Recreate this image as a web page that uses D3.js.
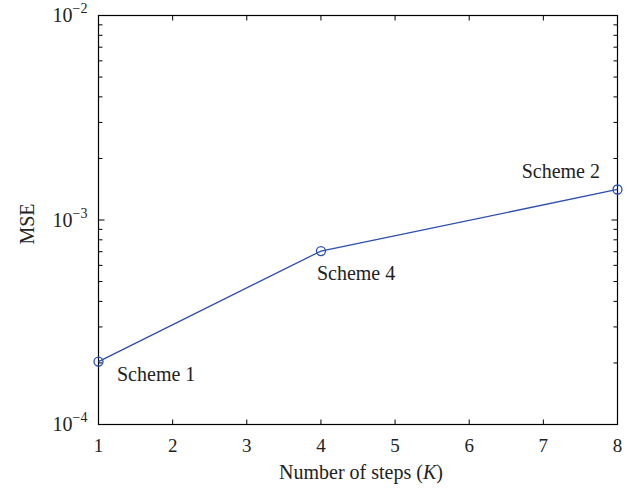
<!DOCTYPE html>
<html>
<head>
<meta charset="utf-8">
<script src="https://cdn.jsdelivr.net/npm/d3@7"></script>
<style>
  body { margin: 0; background: #fff; }
  svg text { font-family: "Liberation Serif", "DejaVu Serif", serif; fill: #222; }
</style>
</head>
<body>
<svg width="640" height="489"></svg>
<script>
// data
var steps = [1, 4, 8];
var mse = [2.03e-4, 7.05e-4, 1.41e-3];
var schemeLabels = ["Scheme 1", "Scheme 4", "Scheme 2"];
var xTicks = [1, 2, 3, 4, 5, 6, 7, 8];
var yMajor = [1e-4, 1e-3, 1e-2];
var yExps = [-4, -3, -2];

var margin = { top: 15.5, right: 22.5, bottom: 64.5, left: 98.5 };
var width = 640 - margin.left - margin.right;
var height = 489 - margin.top - margin.bottom;

var svg = d3.select("svg");
var g = svg.append("g")
    .attr("transform", "translate(" + margin.left + "," + margin.top + ")");

var x = d3.scaleLinear().domain([1, 8]).range([0, width]);
var y = d3.scaleLog().domain([1e-4, 1e-2]).range([height, 0]);

// minor ticks on the log axis
var yMinor = [];
for (var e = -4; e < -2; e++) {
    for (var m = 2; m <= 9; m++) yMinor.push(m * Math.pow(10, e));
}

// y ticks, left and right, inside
g.selectAll(".yminL").data(yMinor).enter().append("line")
    .attr("x1", 0).attr("x2", 4)
    .attr("y1", function (d) { return y(d); }).attr("y2", function (d) { return y(d); })
    .attr("stroke", "#000").attr("stroke-width", 1);
g.selectAll(".yminR").data(yMinor).enter().append("line")
    .attr("x1", width).attr("x2", width - 4)
    .attr("y1", function (d) { return y(d); }).attr("y2", function (d) { return y(d); })
    .attr("stroke", "#000").attr("stroke-width", 1);
g.selectAll(".ymajL").data(yMajor).enter().append("line")
    .attr("x1", 0).attr("x2", 6)
    .attr("y1", function (d) { return y(d); }).attr("y2", function (d) { return y(d); })
    .attr("stroke", "#000").attr("stroke-width", 1);
g.selectAll(".ymajR").data(yMajor).enter().append("line")
    .attr("x1", width).attr("x2", width - 6)
    .attr("y1", function (d) { return y(d); }).attr("y2", function (d) { return y(d); })
    .attr("stroke", "#000").attr("stroke-width", 1);

// x ticks, bottom and top, inside
g.selectAll(".xtB").data(xTicks).enter().append("line")
    .attr("x1", function (d) { return x(d); }).attr("x2", function (d) { return x(d); })
    .attr("y1", height).attr("y2", height - 5)
    .attr("stroke", "#000").attr("stroke-width", 1);
g.selectAll(".xtT").data(xTicks).enter().append("line")
    .attr("x1", function (d) { return x(d); }).attr("x2", function (d) { return x(d); })
    .attr("y1", 0).attr("y2", 5)
    .attr("stroke", "#000").attr("stroke-width", 1);

// box
g.append("rect")
    .attr("x", 0).attr("y", 0).attr("width", width).attr("height", height)
    .attr("fill", "none").attr("stroke", "#000").attr("stroke-width", 1.2);

// x tick labels
g.selectAll(".xl").data(xTicks).enter().append("text")
    .attr("x", function (d) { return x(d); })
    .attr("y", height + 27)
    .attr("text-anchor", "middle")
    .style("font-size", "19px")
    .text(function (d) { return d; });

// y tick labels 10^e
var yl = g.selectAll(".yl").data(yMajor).enter().append("text")
    .attr("x", -11)
    .attr("y", function (d) { return y(d) + 6.5; })
    .attr("text-anchor", "end")
    .style("font-size", "20px");
yl.append("tspan").text("10");
yl.append("tspan").attr("dy", -9).style("font-size", "14px")
    .text(function (d, i) { return "\u2212" + Math.abs(yExps[i]); });

// axis titles
var xt = svg.append("text")
    .attr("x", margin.left + width / 2 + 3)
    .attr("y", 479)
    .attr("text-anchor", "middle")
    .style("font-size", "20px");
xt.append("tspan").text("Number of steps (");
xt.append("tspan").style("font-style", "italic").text("K");
xt.append("tspan").text(")");

svg.append("text")
    .attr("transform", "translate(34," + (margin.top + height / 2 + 4) + ") rotate(-90)")
    .attr("text-anchor", "middle")
    .style("font-size", "20px")
    .text("MSE");

// line and markers
var line = d3.line()
    .x(function (d, i) { return x(steps[i]); })
    .y(function (d) { return y(d); });

g.append("path")
    .datum(mse)
    .attr("d", line)
    .attr("fill", "none")
    .attr("stroke", "#2a4fb0")
    .attr("stroke-width", 1.3);

g.selectAll(".pt").data(mse).enter().append("circle")
    .attr("cx", function (d, i) { return x(steps[i]); })
    .attr("cy", function (d) { return y(d); })
    .attr("r", 4.5)
    .attr("fill", "none")
    .attr("stroke", "#2a4fb0")
    .attr("stroke-width", 1.3);

// scheme labels
var labelDx = [18.5, -4, -17.5];
var labelDy = [19, 29, -11];
var labelAnchor = ["start", "start", "end"];
g.selectAll(".sl").data(mse).enter().append("text")
    .attr("x", function (d, i) { return x(steps[i]) + labelDx[i]; })
    .attr("y", function (d, i) { return y(d) + labelDy[i]; })
    .attr("text-anchor", function (d, i) { return labelAnchor[i]; })
    .style("font-size", "20px")
    .text(function (d, i) { return schemeLabels[i]; });
</script>
</body>
</html>
